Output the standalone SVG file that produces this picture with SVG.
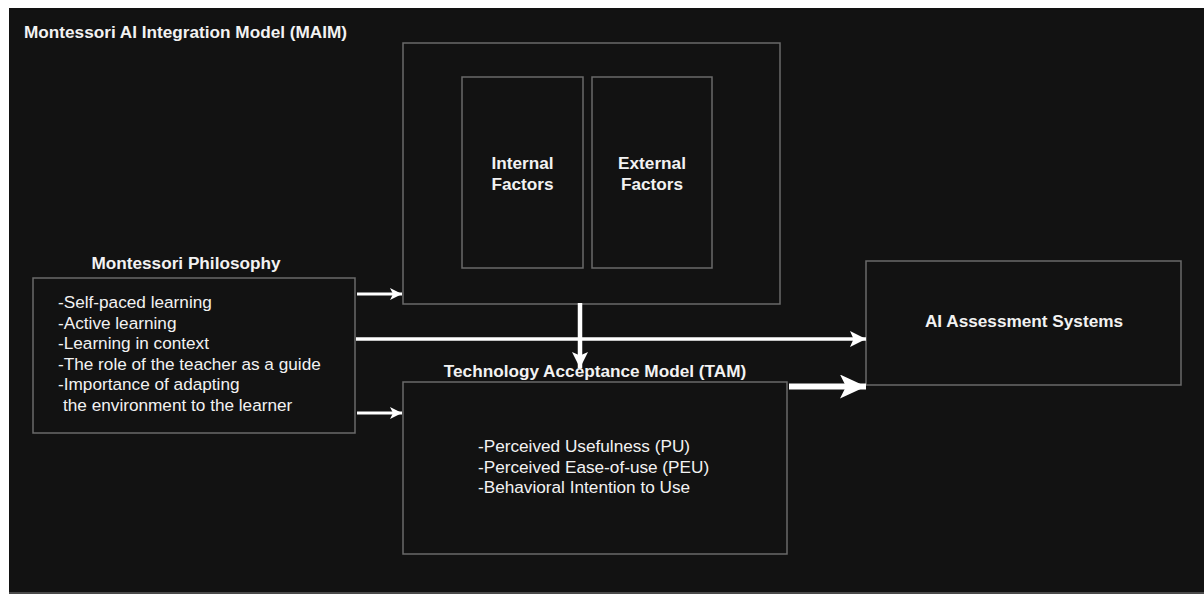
<svg xmlns="http://www.w3.org/2000/svg" width="1204" height="594" viewBox="0 0 1204 594">
  <defs>
    <style>
      .box { fill: #121212; stroke: #6a6a6a; stroke-width: 1.5; }
      .t { font-family: "Liberation Sans", Arial, Helvetica, sans-serif; fill: #f2f2f2; }
      .b { font-weight: bold; font-size: 17.2px; }
      .r { font-size: 17.2px; }
      .conn { stroke: #ffffff; fill: none; }
    </style>
    <marker id="headS" viewBox="0 0 12 12" refX="12" refY="6" markerWidth="12" markerHeight="12" markerUnits="userSpaceOnUse" orient="auto">
      <path d="M0,0 L12,6 L0,12 L3,6 Z" fill="#ffffff"/>
    </marker>
    <marker id="headM" viewBox="0 0 18 18" refX="18" refY="9" markerWidth="18" markerHeight="16" markerUnits="userSpaceOnUse" orient="auto">
      <path d="M0,0 L18,9 L0,18 L4,9 Z" fill="#ffffff"/>
    </marker>
    <marker id="headL" viewBox="0 0 26 24" refX="26" refY="12" markerWidth="26" markerHeight="24" markerUnits="userSpaceOnUse" orient="auto">
      <path d="M0,0 L26,12 L0,24 L6,12 Z" fill="#ffffff"/>
    </marker>
  </defs>
  <rect x="0" y="0" width="1204" height="594" fill="#ffffff"/>
  <rect x="9" y="8" width="1195" height="584" fill="#121212"/>
  <rect x="9" y="592" width="1195" height="2" fill="#4a4a4a"/>

  <g id="title">
    <text class="t b" x="24" y="38">Montessori AI Integration Model (MAIM)</text>
  </g>

  <g id="maim">
    <rect class="box" x="403" y="43" width="377" height="261"/>
  </g>
  <g id="internal">
    <rect class="box" x="462" y="77" width="121" height="191"/>
    <text class="t b" x="522.5" y="169" text-anchor="middle">Internal</text>
    <text class="t b" x="522.5" y="190" text-anchor="middle">Factors</text>
  </g>
  <g id="external">
    <rect class="box" x="592" y="77" width="120" height="191"/>
    <text class="t b" x="652" y="169" text-anchor="middle">External</text>
    <text class="t b" x="652" y="190" text-anchor="middle">Factors</text>
  </g>

  <g id="montessori">
    <text class="t b" x="186" y="269" text-anchor="middle">Montessori Philosophy</text>
    <rect class="box" x="33" y="278" width="322" height="155"/>
    <text class="t r" x="58" y="308">-Self-paced learning</text>
    <text class="t r" x="58" y="328.5">-Active learning</text>
    <text class="t r" x="58" y="349">-Learning in context</text>
    <text class="t r" x="58" y="369.5">-The role of the teacher as a guide</text>
    <text class="t r" x="58" y="390">-Importance of adapting</text>
    <text class="t r" x="63" y="410.5">the environment to the learner</text>
  </g>

  <g id="tam">
    <text class="t b" x="595" y="377" text-anchor="middle">Technology Acceptance Model (TAM)</text>
    <rect class="box" x="403" y="382" width="384" height="172"/>
    <text class="t r" x="478" y="452">-Perceived Usefulness (PU)</text>
    <text class="t r" x="478" y="472.5">-Perceived Ease-of-use (PEU)</text>
    <text class="t r" x="478" y="493">-Behavioral Intention to Use</text>
  </g>

  <g id="ai">
    <rect class="box" x="866" y="261" width="315" height="124"/>
    <text class="t b" x="1024" y="327" text-anchor="middle">AI Assessment Systems</text>
  </g>

  <g id="connectors">
    <line class="conn" x1="357" y1="294" x2="402" y2="294" stroke-width="3" marker-end="url(#headS)"/>
    <line class="conn" x1="356" y1="339" x2="866" y2="339" stroke-width="3.5" marker-end="url(#headM)"/>
    <line class="conn" x1="357" y1="413" x2="402" y2="413" stroke-width="3" marker-end="url(#headS)"/>
    <line class="conn" x1="580" y1="303" x2="580" y2="368" stroke-width="4.5" marker-end="url(#headM)"/>
    <line class="conn" x1="789" y1="386.5" x2="866" y2="386.5" stroke-width="6" marker-end="url(#headL)"/>
  </g>
</svg>
